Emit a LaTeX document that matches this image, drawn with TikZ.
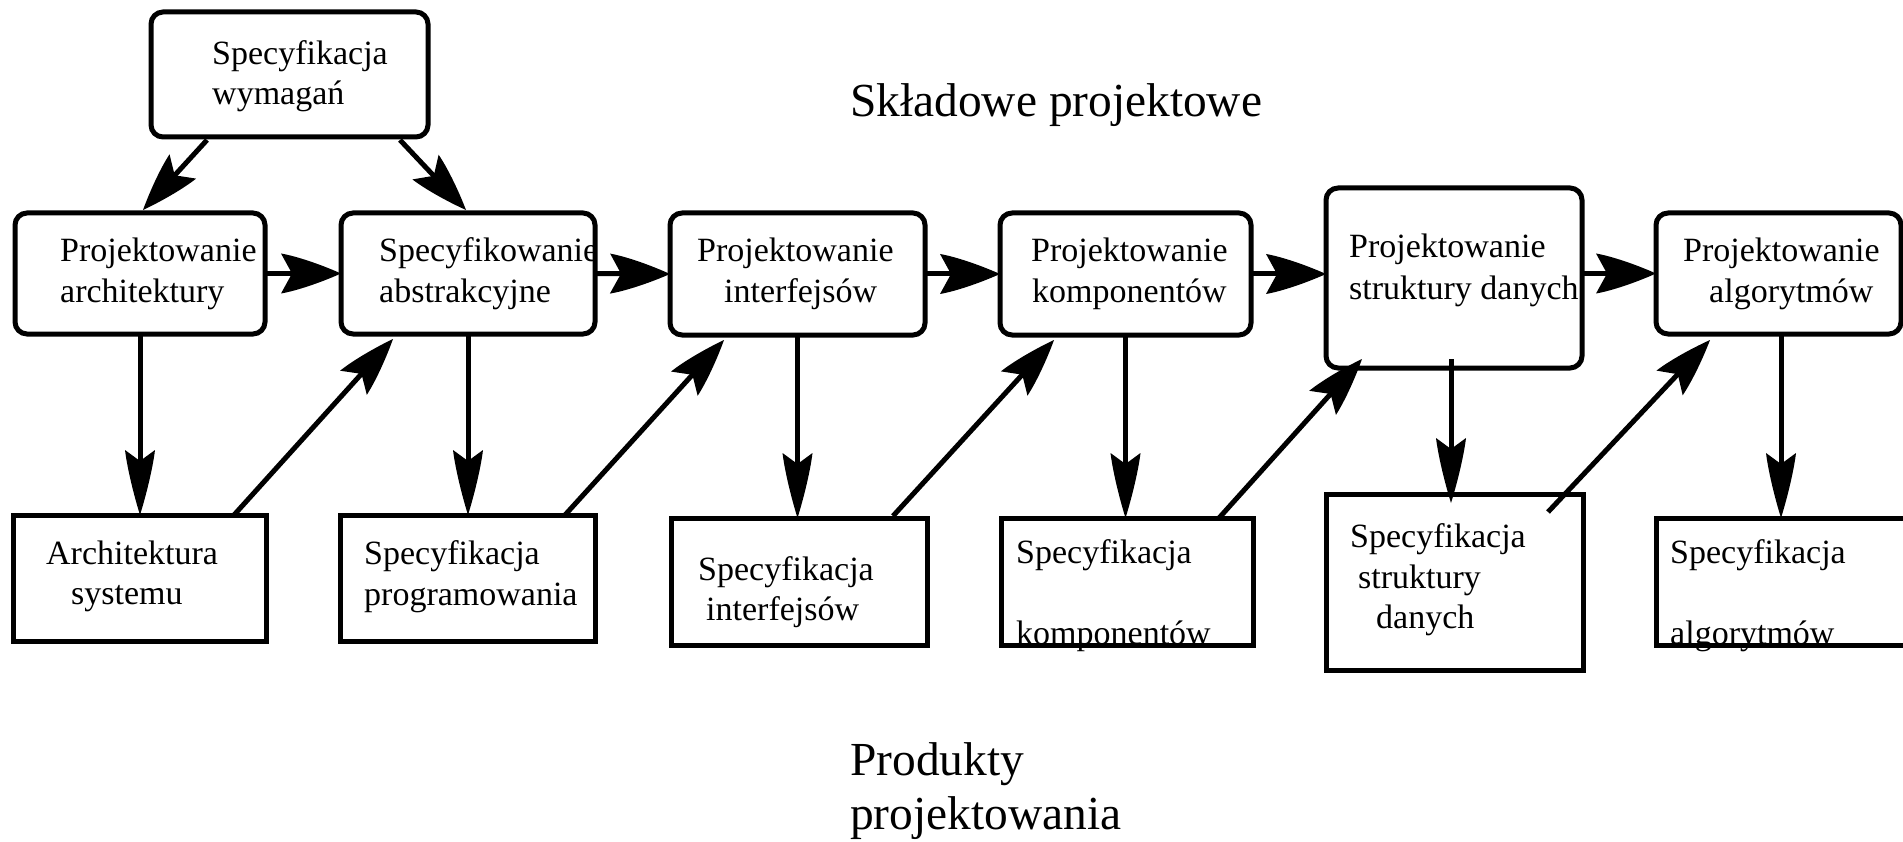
\documentclass[tikz,border=0pt]{standalone}
\usepackage{fontspec}
\setmainfont{Liberation Serif}
\usetikzlibrary{arrows.meta,calc}
\newcommand\boxfont{\fontsize{34}{40}\selectfont}
\newcommand\headfont{\fontsize{47.4}{55}\selectfont}

% filled barbed arrowhead with slightly convex flanks
% #1 name, #2 length, #3 half width, #4 inset, #5 where the line stops
\newcommand\declarebarb[5]{%
  \pgfdeclarearrow{
    name=#1,
    setup code={
      \pgfarrowssettipend{0pt}
      \pgfarrowssetlineend{#5pt}
      \pgfarrowssetbackend{-#2pt}
      \pgfarrowshullpoint{0pt}{0pt}
      \pgfarrowshullpoint{-#2pt}{#3pt}
      \pgfarrowshullpoint{-#2pt}{-#3pt}
    },
    drawing code={
      \pgfpathmoveto{\pgfqpoint{0pt}{0pt}}
      \pgfpathcurveto{\pgfpoint{-0.35*#2pt}{0.47*#3pt}}{\pgfpoint{-0.75*#2pt}{0.87*#3pt}}{\pgfpoint{-#2pt}{#3pt}}
      \pgfpathlineto{\pgfpoint{-#2pt+#4pt}{0pt}}
      \pgfpathlineto{\pgfpoint{-#2pt}{-#3pt}}
      \pgfpathcurveto{\pgfpoint{-0.75*#2pt}{-0.87*#3pt}}{\pgfpoint{-0.35*#2pt}{-0.47*#3pt}}{\pgfqpoint{0pt}{0pt}}
      \pgfpathclose
      \pgfusepathqfill
    }
  }%
}
\declarebarb{BarbH}{60}{20}{11}{-43}
\declarebarb{BarbV}{65}{15}{11}{-48}
\declarebarb{BarbD}{59}{18}{12}{-41}

\begin{document}
\begin{tikzpicture}[x=1pt,y=-1pt,
  frame/.style={draw,line width=5pt,inner sep=0pt,outer sep=0pt},
  stage/.style={frame,rounded corners=12pt},
  product/.style={frame},
  txt/.style={anchor=base west,inner sep=0pt,font=\boxfont},
  head/.style={anchor=base west,inner sep=0pt,font=\headfont},
  link/.style={line width=5pt},
  harrow/.style={link,-{BarbH}},
  varrow/.style={link,-{BarbV}},
  darrow/.style={link,-{BarbD}},
]
\useasboundingbox (0,0) rectangle (1903,842);
\clip (0,0) rectangle (1903,842);

% design stages (rounded boxes)
\node[stage,minimum width=277pt,minimum height=125pt] (req)    at (289.5,74.5) {};
\node[stage,minimum width=250pt,minimum height=121pt] (arch)   at (140,273.5) {};
\node[stage,minimum width=254pt,minimum height=121pt] (abstr)  at (468,273.5) {};
\node[stage,minimum width=255pt,minimum height=122pt] (interf) at (797.5,274) {};
\node[stage,minimum width=251pt,minimum height=122pt] (comp)   at (1125.5,274) {};
\node[stage,minimum width=256pt,minimum height=180pt] (data)   at (1454,278) {};
\node[stage,minimum width=245pt,minimum height=121pt] (algo)   at (1778.5,273.5) {};

% design products (plain boxes)
\node[product,minimum width=253pt,minimum height=126pt] (archsys)    at (139.5,578) {};
\node[product,minimum width=255pt,minimum height=126pt] (prog)       at (467.5,578) {};
\node[product,minimum width=256pt,minimum height=127pt] (interfspec) at (799,581.5) {};
\node[product,minimum width=252pt,minimum height=127pt] (compspec)   at (1127,581.5) {};
\node[product,minimum width=257pt,minimum height=176pt] (dataspec)   at (1454.5,582) {};
\node[product,minimum width=274pt,minimum height=127pt] (algospec)   at (1793,581.5) {};

% box texts
\node[txt] (reqA) at (212,65) {Specyfikacja};
\node[txt] (reqB) at (212,105) {wymagań};
\node[txt] (archA) at (60,262) {Projektowanie};
\node[txt] (archB) at (60,302) {architektury};
\node[txt] (abstrA) at (379,262) {Specyfikowanie};
\node[txt] (abstrB) at (379,302) {abstrakcyjne};
\node[txt] (interfA) at (697,262) {Projektowanie};
\node[txt] (interfB) at (724,302) {interfejsów};
\node[txt] (compA) at (1031,262) {Projektowanie};
\node[txt] (compB) at (1032,302) {komponentów};
\node[txt] (dataA) at (1349,258) {Projektowanie};
\node[txt] (dataB) at (1349,299) {struktury danych};
\node[txt] (algoA) at (1683,262) {Projektowanie};
\node[txt] (algoB) at (1709,302) {algorytmów};

\node[txt] (archsysA) at (46,564) {Architektura};
\node[txt] (archsysB) at (71,604) {systemu};
\node[txt] (progA) at (364,564) {Specyfikacja};
\node[txt] (progB) at (364,605) {programowania};
\node[txt] (interfspecA) at (698,580) {Specyfikacja};
\node[txt] (interfspecB) at (706,620) {interfejsów};
\node[txt] (compspecA) at (1016,563) {Specyfikacja};
\node[txt] (compspecB) at (1016,644) {komponentów};
\node[txt] (dataspecA) at (1350,547) {Specyfikacja};
\node[txt] (dataspecB) at (1358,588) {struktury};
\node[txt] (dataspecC) at (1376,628) {danych};
\node[txt] (algospecA) at (1670,563) {Specyfikacja};
\node[txt] (algospecB) at (1670,644) {algorytmów};

% headings
\node[head] (stagesTitle) at (850,117) {Składowe projektowe};
\node[head] (productsA) at (850,775) {Produkty};
\node[head] (productsB) at (850,829) {projektowania};

% requirements feed the first two stages
\draw[darrow] ($(req.south west)+(56,3)$) -- ($(arch.north west)+(128,-3)$);
\draw[darrow] ($(req.south east)+(-28,3)$) -- ($(abstr.north west)+(125,-3)$);

% stage sequence
\draw[harrow] (arch.east) -- (abstr.west);
\draw[harrow] (abstr.east) -- (interf.west);
\draw[harrow] (interf.east) -- (comp.west);
\draw[harrow] (comp.east) -- (comp.east -| data.west);
\draw[harrow] (algo.west -| data.east) -- (algo.west);

% each stage yields a product
\draw[varrow] (arch.south) -- (arch.south |- archsys.north);
\draw[varrow] (abstr.south) -- (abstr.south |- prog.north);
\draw[varrow] (interf.south) -- (interf.south |- interfspec.north);
\draw[varrow] (comp.south) -- (comp.south |- compspec.north);
\draw[varrow] ($(data.south)+(-3,-9)$) -- ($(data.south |- dataspec.north)+(-3,9)$);
\draw[varrow] ($(algo.south)+(2.5,0)$) -- ($(algo.south |- algospec.north)+(2.5,0)$);

% each product feeds the next stage
\draw[darrow] ($(archsys.north west)+(221,0)$) -- ($(abstr.south west)+(52,5)$);
\draw[darrow] ($(prog.north west)+(225,0)$) -- ($(interf.south west)+(54,5)$);
\draw[darrow] ($(interfspec.north west)+(222,-2)$) -- ($(comp.south west)+(54,5)$);
\draw[darrow] ($(compspec.north west)+(218,0)$) -- ($(data.south west)+(36,-9)$);
\draw[darrow] ($(dataspec.north west)+(222,18)$) -- ($(algo.south west)+(54,6)$);
\end{tikzpicture}
\end{document}
